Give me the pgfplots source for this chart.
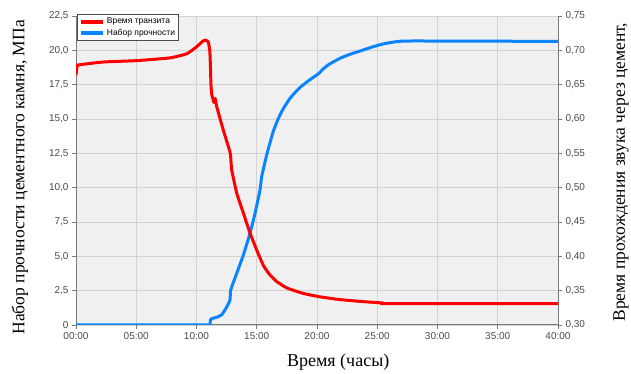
\documentclass[border=0pt]{standalone}
\usepackage{pgfplots}
\pgfplotsset{compat=1.18}
\usepackage{fontspec}
\setmainfont{Liberation Serif}
\setsansfont{Liberation Sans}

\definecolor{bg}{HTML}{F0F0F0}
\definecolor{gridc}{HTML}{D2D2D2}
\definecolor{axc}{HTML}{7A7A7A}
\definecolor{tickc}{HTML}{4A4A4A}
\definecolor{blueline}{HTML}{0A84FF}

\begin{document}
\begin{tikzpicture}
\useasboundingbox (-76pt,-49pt) rectangle (555pt,325pt);
\pgfplotsset{
  common/.style={
    width=482pt, height=309pt, scale only axis,
    xmin=0, xmax=40,
    xtick={0,5,10,15,20,25,30,35,40},
    ticklabel style={font=\sffamily\fontsize{10}{12}\selectfont, text=tickc},
    tick style={axc, line width=0.8pt},
    tick align=outside,
    major tick length=4pt,
  }
}
\begin{axis}[common,
  ymin=0, ymax=22.5, ytick={0,2.5,5,7.5,10,12.5,15,17.5,20,22.5},
  yticklabels={0,{2,5},{5,0},{7,5},{10,0},{12,5},{15,0},{17,5},{20,0},{22,5}},
  xticklabels={00:00,05:00,10:00,15:00,20:00,25:00,30:00,35:00,40:00},
  axis background/.style={fill=bg},
  grid=major, grid style={gridc, line width=0.8pt},
  axis x line*=bottom, axis y line*=left,
  axis line style={axc, line width=1pt, -},
  xlabel={Время (часы)},
  ylabel={Набор прочности цементного камня, МПа},
  every axis x label/.style={at={(axis description cs:0.544,-0.12)}, anchor=center, font=\fontsize{18}{20}\selectfont},
  every axis y label/.style={at={(axis description cs:-0.116,0.478)}, rotate=90, anchor=center, font=\fontsize{17.5}{20}\selectfont},
]
\addplot[blueline, line width=3pt, line join=round] coordinates {
(0,0) (11.1,0) (11.18,0.42) (11.4,0.5) (11.68,0.56)
};
\addplot[blueline, line width=3pt, line join=round, smooth, tension=0.3] coordinates {
(11.68,0.56) (12.1,0.75) (12.5,1.3)
(12.78,1.82) (12.84,2.55) (13.34,3.77) (13.89,5.1) (14.44,6.68) (14.85,8.1)
(15.27,9.83) (15.41,10.8) (15.83,12.4) (16.37,14.1) (16.8,15.05) (17.2,15.75)
(17.8,16.55) (18.59,17.3) (19.4,17.85) (20.2,18.35) (20.45,18.6) (21.0,18.98)
(21.91,19.42) (22.7,19.7) (23.57,19.95) (24.5,20.22) (25.5,20.47)
(26.6,20.63) (28,20.68) (40,20.65)
};
\end{axis}
\begin{axis}[common,
  ymin=0.30, ymax=0.75, ytick={0.30,0.35,0.40,0.45,0.50,0.55,0.60,0.65,0.70,0.75},
  yticklabels={{0,30},{0,35},{0,40},{0,45},{0,50},{0,55},{0,60},{0,65},{0,70},{0,75}},
  axis y line*=right, axis x line=none,
  axis line style={axc, line width=1pt, -},
  ylabel={Время прохождения звука через цемент,},
  every axis y label/.style={at={(axis description cs:1.131,0.495)}, rotate=90, anchor=center, font=\fontsize{17.5}{20}\selectfont},
  legend style={at={(axis description cs:0.002,1.006)}, anchor=north west, draw=tickc, line width=0.8pt, fill=white,
    font=\sffamily\fontsize{8.5}{10}\selectfont, inner sep=1.5pt, row sep=0pt},
  legend cell align=left,
  legend image code/.code={\draw[#1, line width=4pt] (0pt,0pt) -- (22pt,0pt);},
]
\addplot[red, line width=3pt, line join=round, smooth, tension=0.25] coordinates {
(0,0.664) (0.1,0.678) (0.3,0.679) (2.24,0.683) (5.04,0.685) (7.8,0.689) (9.19,0.695)
(10.0,0.705) (10.5,0.713) (10.75,0.715) (10.98,0.712) (11.1,0.70) (11.15,0.68)
(11.2,0.65) (11.26,0.636) (11.35,0.63) (11.45,0.624) (11.55,0.63) (11.68,0.618)
(12.22,0.584) (12.78,0.552) (12.84,0.544) (12.92,0.526) (13.34,0.492) (13.89,0.463)
(14.44,0.434) (15.0,0.409) (15.54,0.387) (16.0,0.375) (16.6,0.364) (17.49,0.354) (18.86,0.346)
(20.25,0.341) (21.9,0.337) (23.84,0.334) (25.5,0.332) (25.8,0.331) (40,0.331)
};
\addlegendentry{Время транзита}
\addlegendimage{blueline}
\addlegendentry{Набор прочности}
\end{axis}
\end{tikzpicture}
\end{document}
